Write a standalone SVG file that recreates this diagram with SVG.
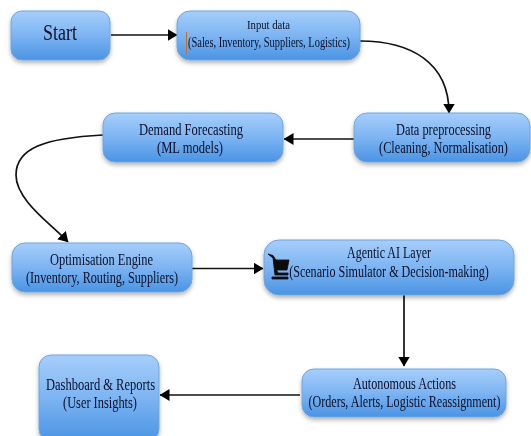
<svg xmlns="http://www.w3.org/2000/svg" width="531" height="436" viewBox="0 0 531 436">
<style>
.n{fill:url(#g);stroke:#6ea6de;stroke-width:1;filter:url(#s)}
.t{font-family:"Liberation Serif","Times New Roman",serif;fill:#0a1028;text-anchor:middle;font-size:16px;filter:url(#b)}
.c{fill:none;stroke:#111;stroke-width:1.7;marker-end:url(#a)}
</style>
<defs>
<linearGradient id="g" x1="0" y1="0" x2="0" y2="1">
<stop offset="0" stop-color="#a6cefb"/><stop offset="0.5" stop-color="#7db4f2"/><stop offset="1" stop-color="#4a94e4"/>
</linearGradient>
<filter id="s" x="-10%" y="-20%" width="120%" height="145%"><feDropShadow dx="0" dy="2.500" stdDeviation="2" flood-color="#000" flood-opacity="0.3"/></filter>
<filter id="b" filterUnits="userSpaceOnUse" x="-1000" y="-1000" width="3000" height="3000"><feGaussianBlur stdDeviation="0.4"/></filter>
<marker id="a" viewBox="0 0 10 12" refX="9.500" refY="6" markerWidth="10" markerHeight="12" markerUnits="userSpaceOnUse" orient="auto"><path d="M0 0L10 6L0 12z" fill="#000"/></marker>
</defs>
<rect width="531" height="436" fill="#fff"/>
<g id="connectors">
<path class="c" d="M111 35H177"/>
<path class="c" d="M360 41C410 41 449 62 449 113"/>
<path class="c" d="M354 139H284"/>
<path class="c" d="M103 135C45 138 16 148 16 175C16 200 50 223 68 242"/>
<path class="c" d="M192 268.500H263"/>
<path class="c" d="M404 295V366"/>
<path class="c" d="M300 395H160"/>
</g>
<g id="start"><rect class="n" x="11" y="11" width="99" height="49" rx="11"/><text class="t" x="60" y="40" style="font-size:24px" textLength="34" lengthAdjust="spacingAndGlyphs">Start</text></g>
<g id="input"><rect class="n" x="177" y="11" width="183" height="49" rx="13"/>
<text class="t" x="268.500" y="29" style="font-size:13.500px" textLength="43" lengthAdjust="spacingAndGlyphs">Input data</text>
<text class="t" x="269" y="47" style="font-size:14px" textLength="162" lengthAdjust="spacingAndGlyphs">(Sales, Inventory, Suppliers, Logistics)</text>
<path d="M186.500 32V54" stroke="#c0722a" stroke-width="1" fill="none"/></g>
<g id="demand"><rect class="n" x="103" y="113" width="180" height="49" rx="12"/>
<text class="t" x="191" y="135" textLength="104" lengthAdjust="spacingAndGlyphs">Demand Forecasting</text>
<text class="t" x="190" y="153" textLength="66" lengthAdjust="spacingAndGlyphs">(ML models)</text></g>
<g id="preprocessing"><rect class="n" x="354" y="113" width="176" height="49" rx="13"/>
<text class="t" x="443.500" y="135" textLength="95" lengthAdjust="spacingAndGlyphs">Data preprocessing</text>
<text class="t" transform="translate(443.500 153) scale(0.768 1)">(Cleaning, Normalisation)</text></g>
<g id="optimisation"><rect class="n" x="12" y="243" width="180" height="49" rx="13"/>
<text class="t" x="101.500" y="265" textLength="103" lengthAdjust="spacingAndGlyphs">Optimisation Engine</text>
<text class="t" x="102" y="283" textLength="152" lengthAdjust="spacingAndGlyphs">(Inventory, Routing, Suppliers)</text></g>
<g id="agentic"><rect class="n" x="264" y="240" width="250" height="55" rx="15"/>
<text class="t" x="389" y="258" textLength="84" lengthAdjust="spacingAndGlyphs">Agentic AI Layer</text>
<text class="t" transform="translate(389 277) scale(0.756 1)">(Scenario Simulator &amp; Decision-making)</text>
<path d="M268 254L273 255.500L276 260H289L287 270H276.500L278 273H288V275H275L273 258Z M272 277H288V279H272Z" fill="#0b0b0b" stroke="#0b0b0b" stroke-width="0.800"/></g>
<g id="autonomous"><rect class="n" x="302" y="369" width="204" height="48" rx="12"/>
<text class="t" x="404.500" y="389" textLength="103" lengthAdjust="spacingAndGlyphs">Autonomous Actions</text>
<text class="t" transform="translate(404.500 407) scale(0.755 1)">(Orders, Alerts, Logistic Reassignment)</text></g>
<g id="dashboard"><rect class="n" x="39" y="355" width="120" height="86" rx="12"/>
<text class="t" x="100.500" y="390" textLength="109" lengthAdjust="spacingAndGlyphs">Dashboard &amp; Reports</text>
<text class="t" x="100" y="408" textLength="74" lengthAdjust="spacingAndGlyphs">(User Insights)</text></g>
</svg>
